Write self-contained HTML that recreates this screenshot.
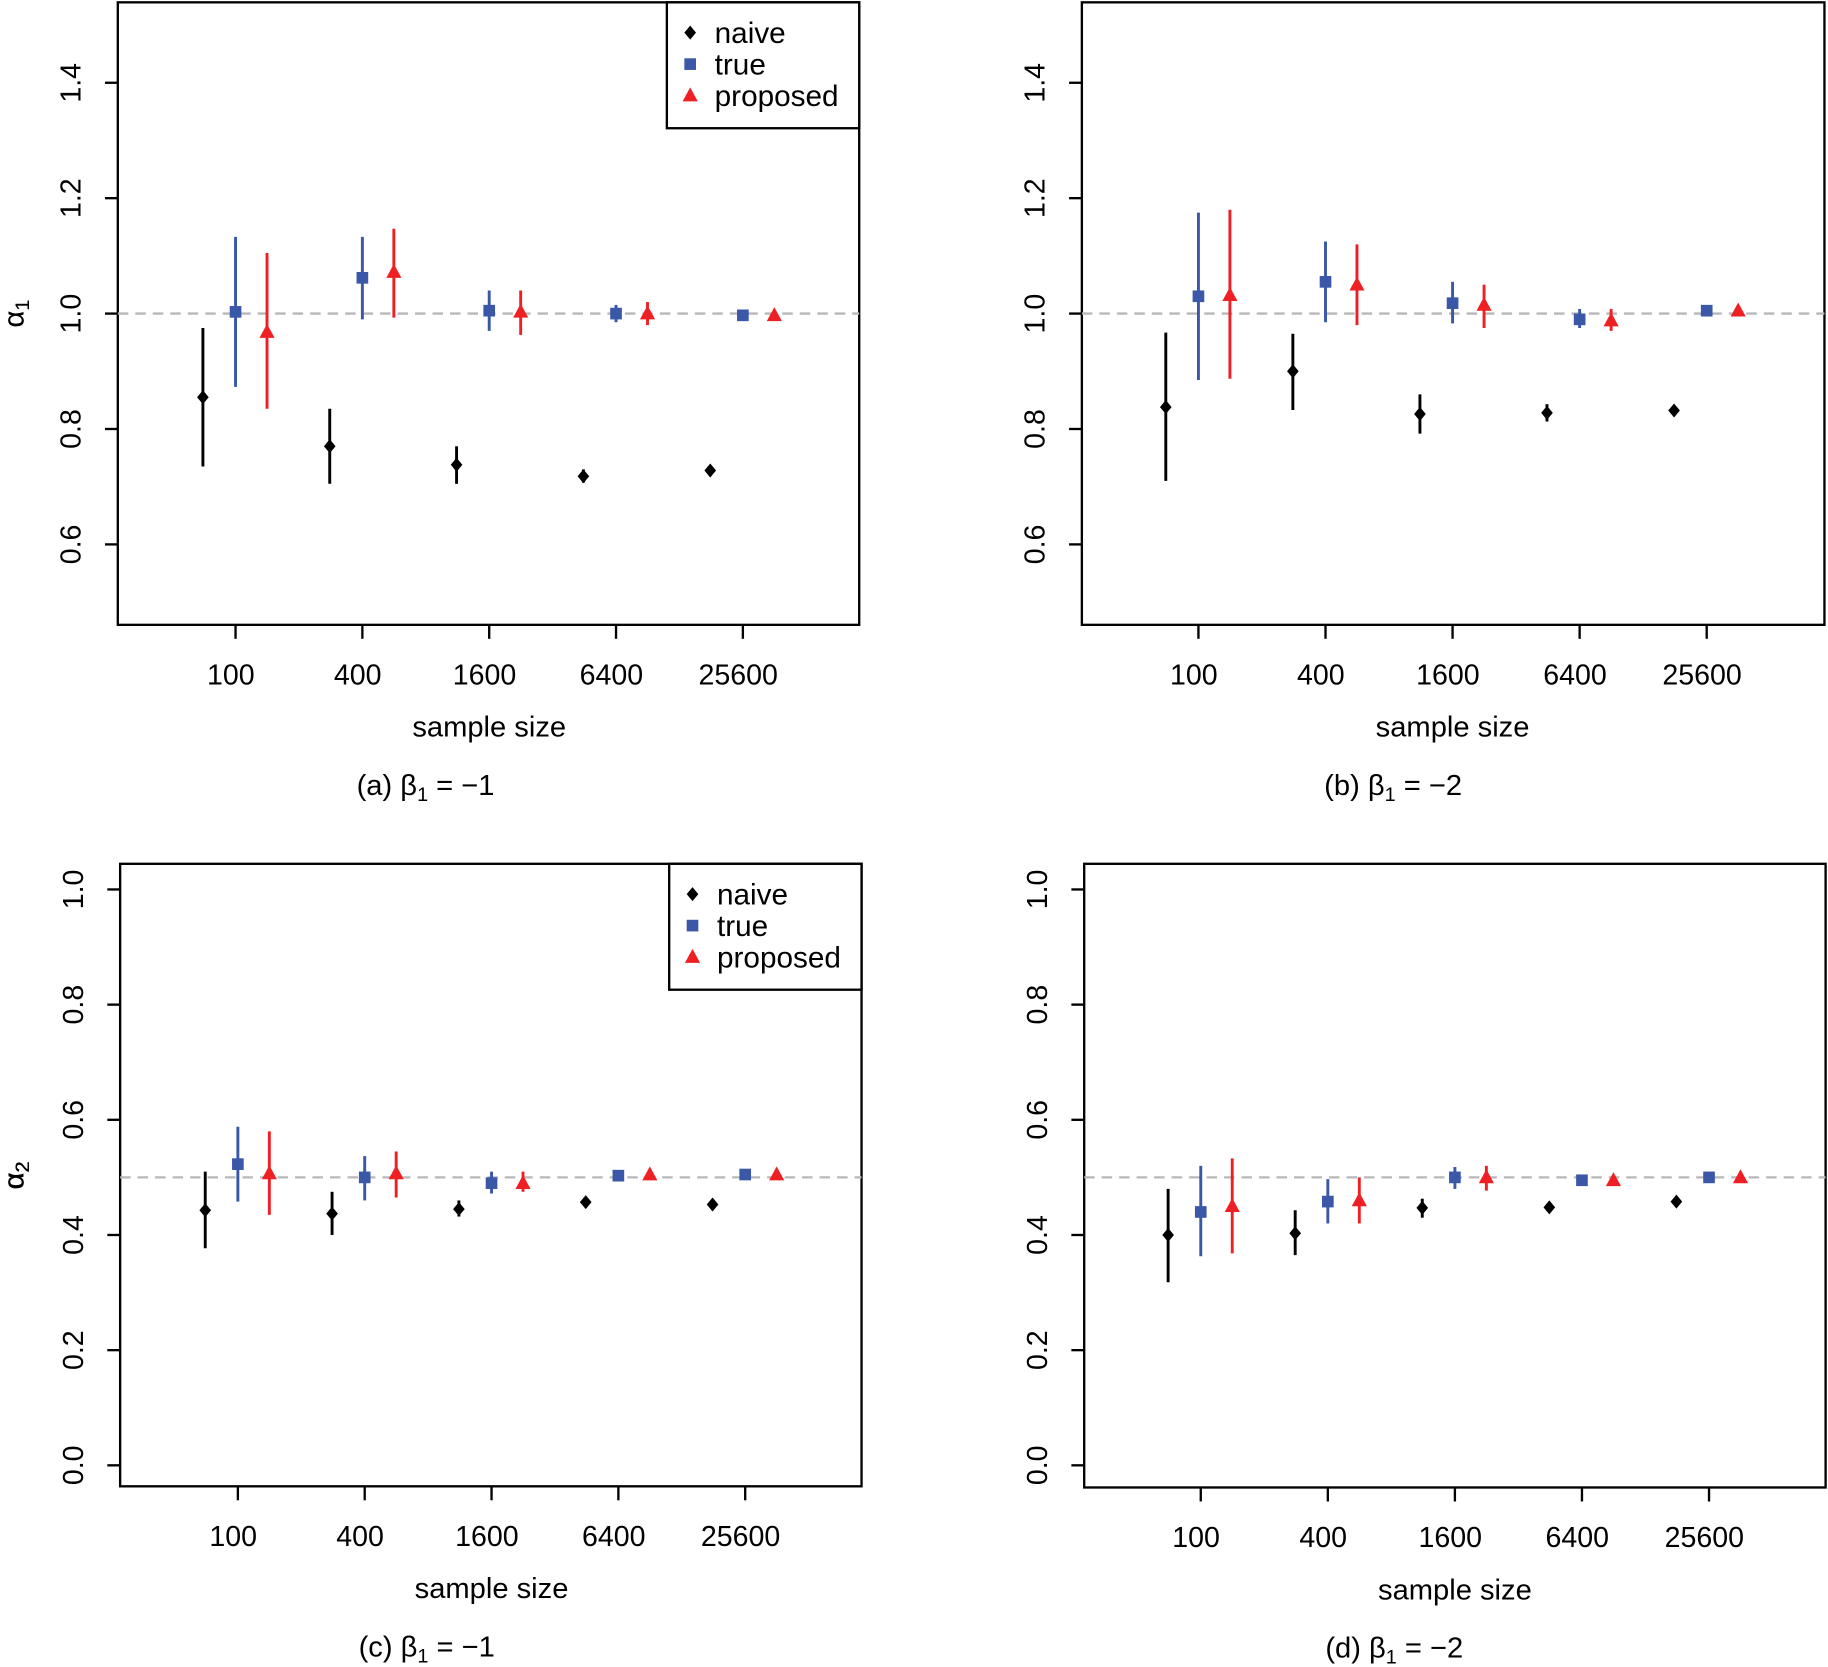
<!DOCTYPE html>
<html><head><meta charset="utf-8"><style>
html,body{margin:0;padding:0;background:#fff}
svg{display:block}
text{font-family:"Liberation Sans",sans-serif;fill:#000}
</style></head><body>
<svg width="1828" height="1667" viewBox="0 0 1568 1430" xmlns="http://www.w3.org/2000/svg" id="fig"></svg>
<script>
// Data arrays: [estimate, lower, upper] per sample size
const sampleSizes = ["100","400","1600","6400","25600"];
const aNaive = [[0.855,0.735,0.975],[0.77,0.705,0.835],[0.738,0.705,0.77],[0.718,0.707,0.73],[0.728,0.725,0.731]];
const aTrue  = [[1.003,0.873,1.133],[1.062,0.99,1.133],[1.005,0.97,1.04],[1.0,0.985,1.015],[0.997,0.99,1.003]];
const aProp  = [[0.968,0.835,1.105],[1.072,0.993,1.147],[1.003,0.963,1.04],[1.0,0.98,1.02],[0.997,0.99,1.004]];
const bNaive = [[0.838,0.71,0.967],[0.9,0.833,0.965],[0.826,0.792,0.86],[0.828,0.813,0.843],[0.832,0.829,0.835]];
const bTrue  = [[1.03,0.885,1.175],[1.055,0.985,1.125],[1.018,0.983,1.055],[0.99,0.975,1.008],[1.005,0.998,1.012]];
const bProp  = [[1.032,0.887,1.18],[1.05,0.98,1.12],[1.015,0.975,1.05],[0.988,0.97,1.008],[1.005,0.998,1.012]];
const cNaive = [[0.443,0.377,0.51],[0.437,0.4,0.475],[0.445,0.432,0.46],[0.457,0.452,0.462],[0.453,0.45,0.456]];
const cTrue  = [[0.523,0.458,0.588],[0.5,0.46,0.537],[0.49,0.472,0.51],[0.503,0.498,0.508],[0.505,0.502,0.508]];
const cProp  = [[0.507,0.435,0.58],[0.507,0.465,0.545],[0.49,0.475,0.51],[0.505,0.498,0.51],[0.505,0.5,0.51]];
const dNaive = [[0.4,0.318,0.48],[0.403,0.365,0.443],[0.447,0.43,0.463],[0.448,0.442,0.453],[0.458,0.455,0.462]];
const dTrue  = [[0.44,0.363,0.52],[0.458,0.42,0.497],[0.5,0.48,0.518],[0.495,0.49,0.5],[0.5,0.497,0.503]];
const dProp  = [[0.45,0.368,0.533],[0.46,0.42,0.5],[0.5,0.477,0.52],[0.495,0.488,0.5],[0.5,0.496,0.504]];
const topTicks = ["0.6","0.8","1.0","1.2","1.4"];
const botTicks = ["0.0","0.2","0.4","0.6","0.8","1.0"];
const legendLabels = ["naive","true","proposed"];

const NS="http://www.w3.org/2000/svg";
const svg=document.getElementById('fig');
function mk(tag,attrs,parent){const e=document.createElementNS(NS,tag);for(const k in attrs)e.setAttribute(k,attrs[k]);(parent||svg).appendChild(e);return e;}
const BLACK="#000",BLUE="#3a57a8",RED="#ee2024";

function marker(g,type,x,y,col){
  let e;
  if(type==0) e=mk('polygon',{points:`${x},${y-6} ${x+5},${y} ${x},${y+6} ${x-5},${y}`,fill:col},g);
  else if(type==1) e=mk('rect',{x:x-5,y:y-5,width:10,height:10,fill:col},g);
  else e=mk('polygon',{points:`${x},${y-7} ${x+6.5},${y+5} ${x-6.5},${y+5}`,fill:col},g);
  return e;
}

function panel(p){
  const g=mk('g',{});
  
  
  const y=v=>p.y0-(v-p.v0)*p.scale;
  const b=mk('rect',{x:p.x1,y:p.yt,width:p.x2-p.x1,height:p.yb-p.yt,fill:'none',stroke:'#000','stroke-width':2},g);
  
  const rl=mk('line',{x1:p.x1,x2:p.x2,y1:y(p.ref),y2:y(p.ref),stroke:'#b8b8b8','stroke-width':2,'stroke-dasharray':'9,6'},g);
  
  p.yticks.forEach(t=>{
    const v=parseFloat(t),yy=y(v);
    mk('line',{x1:p.x1,x2:p.x1-11,y1:yy,y2:yy,stroke:'#000','stroke-width':2},g);
    const tx=mk('text',{x:p.x1-32,y:yy,'font-size':24.5,'text-anchor':'middle',transform:`rotate(-90 ${p.x1-32} ${yy})`},g);
    tx.textContent=t;
    
  });
  const yt=mk('text',{x:20,y:(p.yt+p.yb)/2,'font-size':25,'text-anchor':'middle',transform:`rotate(-90 20 ${(p.yt+p.yb)/2})`},g);
  yt.innerHTML=`α<tspan font-size="17" dy="5">${p.sub}</tspan>`;
  
  sampleSizes.forEach((s,i)=>{
    const xx=p.xs0+i*p.dx;
    mk('line',{x1:xx,x2:xx,y1:p.yb,y2:p.yb+12,stroke:'#000','stroke-width':2},g);
    const tx=mk('text',{x:xx-4,y:p.yb+51,'font-size':24.5,'text-anchor':'middle'},g);
    tx.textContent=s;
    
  });
  const xt=mk('text',{x:(p.xs0+2*p.dx),y:p.yb+96,'font-size':25,'text-anchor':'middle'},g);
  xt.textContent='sample size';
  const cap=mk('text',{x:p.capx,y:p.yb+146,'font-size':25,'text-anchor':'middle'},g);
  cap.innerHTML=`(${p.letter}) β<tspan font-size="17" dy="5">1</tspan><tspan dy="-5"> = −${p.beta}</tspan>`;
  
  const series=[[p.naive,BLACK,-28,0,'naive'],[p.tru,BLUE,0,1,'true'],[p.prop,RED,27,2,'proposed']];
  series.forEach(([data,col,off,type,nm])=>{
    data.forEach((d,i)=>{
      const xx=p.xs0+i*p.dx+off;
      const l=mk('line',{x1:xx,x2:xx,y1:y(d[1]),y2:y(d[2]),stroke:col,'stroke-width':2.5},g);
      
      const m=marker(g,type,xx,y(d[0]),col);
      
    });
  });
  if(p.legend){
    const lg=mk('g',{},g);
    
    mk('rect',{x:p.x2-165,y:p.yt,width:165,height:108,fill:'#fff',stroke:'#000','stroke-width':2},lg);
    const cols=[BLACK,BLUE,RED];
    legendLabels.forEach((lab,k)=>{
      const yy=p.yt+26+k*27;
      const e=mk('g',{},lg);
      
      marker(e,k,p.x2-145,yy,cols[k]);
      const t=mk('text',{x:p.x2-124,y:yy+9,'font-size':25.5},e);t.textContent=lab;
    });
  }
}
panel({name:'panel-a',x1:101,x2:737,yt:2,yb:536,y0:269,v0:1.0,scale:495,ref:1.0,yticks:topTicks,sub:'1',xs0:202,dx:108.8,capx:365,letter:'a',beta:1,naive:aNaive,tru:aTrue,prop:aProp,legend:true});
panel({name:'panel-b',x1:928,x2:1565,yt:2,yb:536,y0:269,v0:1.0,scale:495,ref:1.0,yticks:topTicks,sub:'1',xs0:1028,dx:109,capx:1195,letter:'b',beta:2,naive:bNaive,tru:bTrue,prop:bProp,legend:false});
panel({name:'panel-c',x1:103,x2:739,yt:741,yb:1275,y0:1257,v0:0,scale:494,ref:0.5,yticks:botTicks,sub:'2',xs0:204,dx:108.8,capx:366,letter:'c',beta:1,naive:cNaive,tru:cTrue,prop:cProp,legend:true});
panel({name:'panel-d',x1:930,x2:1566,yt:741,yb:1276,y0:1257,v0:0,scale:494,ref:0.5,yticks:botTicks,sub:'2',xs0:1030,dx:109,capx:1196,letter:'d',beta:2,naive:dNaive,tru:dTrue,prop:dProp,legend:false});
</script>
</body></html>
